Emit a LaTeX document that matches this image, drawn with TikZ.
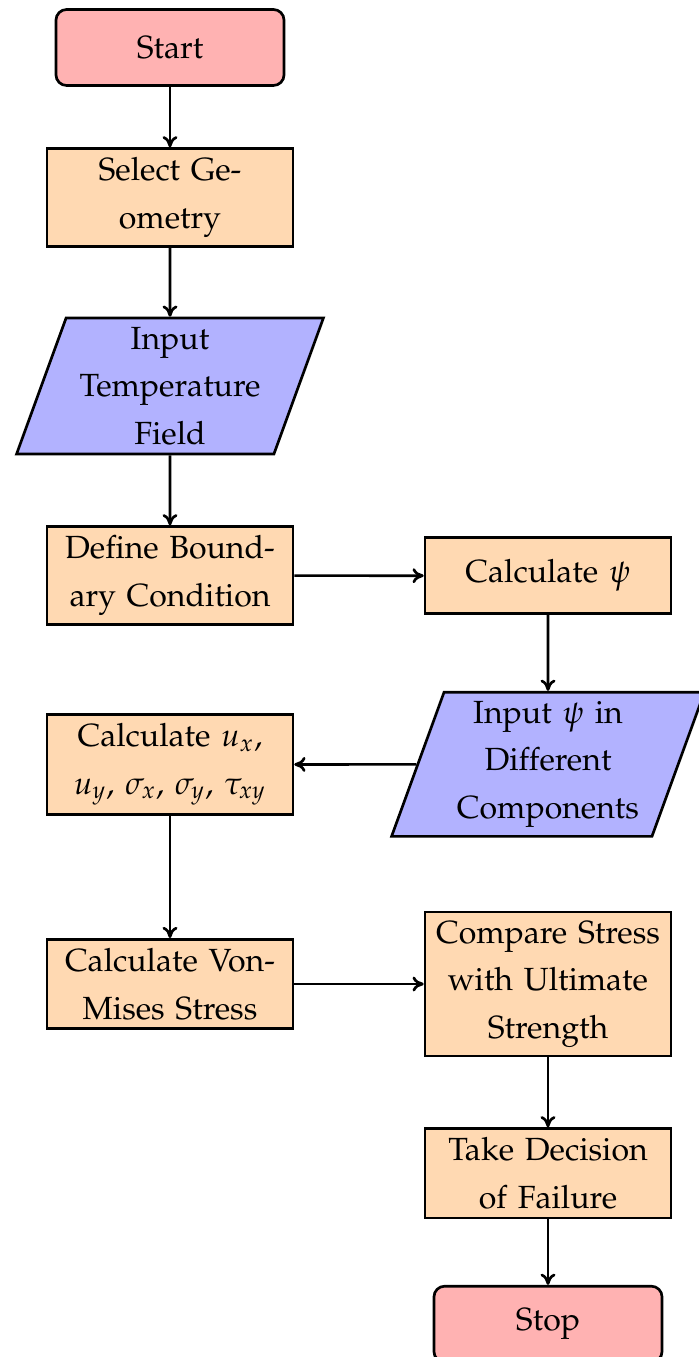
\documentclass[tikz,border=0pt]{standalone}
\usepackage[T1]{fontenc}
\usepackage{mathpazo}
\usetikzlibrary{shapes.geometric, arrows.meta}

\tikzset{
  edge/.style={line width=1pt},
  startstop/.style={rectangle, rounded corners, minimum width=3cm, minimum height=1cm,
    align=center, draw=black, edge, fill=red!30},
  iobox/.style={trapezium, trapezium left angle=70, trapezium right angle=110,
    minimum width=3cm, minimum height=1cm, text width=2.5cm, align=center,
    draw=black, edge, fill=blue!30},
  process/.style={rectangle, minimum width=3cm, minimum height=1cm, text width=3cm,
    align=center, draw=black, edge, fill=orange!30},
  arrow/.style={line width=1pt, -{To[length=4.2pt, width=5.6pt]}},
}

\begin{document}
\begin{tikzpicture}[x=0.0131579cm, y=-0.0131579cm, font=\fontsize{12}{17.8}\selectfont]
  \useasboundingbox (0,0) rectangle (699,1357);
  \clip (0,0) rectangle (699,1357);

  % left column
  \node[startstop] (start) at (170,47.5) {Start};
  \node[process] (geom) at (170,197.5) {Select Geometry};
  \node[iobox] (temp) at (170,386) {Input Temperature Field};
  \node[process] (bc) at (170,575.5) {Define Boundary Condition};
  \node[process] (disp) at (170,764.5) {Calculate $u_x$, $u_y$, $\sigma_x$, $\sigma_y$, $\tau_{xy}$};
  \node[process] (vm) at (170,984) {Calculate Von-Mises Stress};

  % right column
  \node[process] (psi) at (548,575.8) {Calculate $\psi$};
  \node[iobox] (psiin) at (548,764.3) {Input $\psi$ in Different Components};
  \node[process] (cmp) at (548,984) {Compare Stress with Ultimate Strength};
  \node[process] (dec) at (548,1173.3) {Take Decision of Failure};
  \node[startstop] (stop) at (548,1324.2) {Stop};

  % connectors
  \draw[arrow] (start) -- (geom);
  \draw[arrow] (geom) -- (temp);
  \draw[arrow] (temp) -- (bc);
  \draw[arrow] (bc) -- (psi);
  \draw[arrow] (psi) -- (psiin);
  \draw[arrow] (psiin) -- (disp);
  \draw[arrow] (disp) -- (vm);
  \draw[arrow] (vm) -- (cmp);
  \draw[arrow] (cmp) -- (dec);
  \draw[arrow] (dec) -- (stop);
\end{tikzpicture}
\end{document}
